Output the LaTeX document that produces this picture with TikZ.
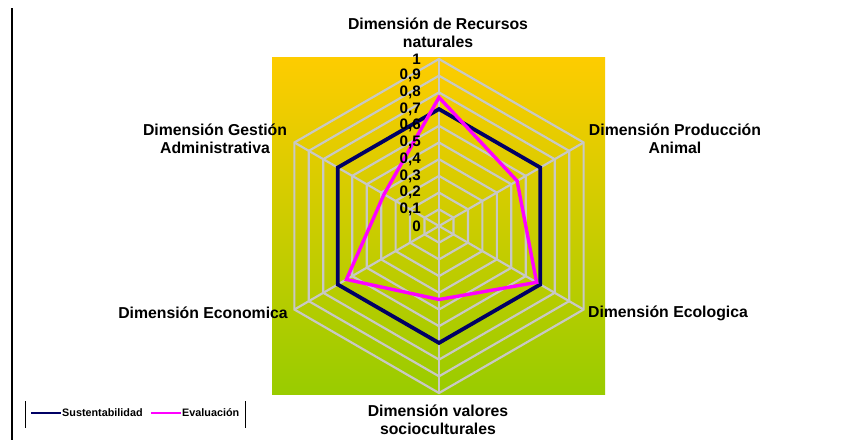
\documentclass[tikz,border=0pt]{standalone}
\usepackage{fontspec}
\setmainfont{Liberation Sans}
\definecolor{bgtop}{RGB}{254,204,0}
\definecolor{bgbot}{RGB}{153,204,0}
\definecolor{gridc}{RGB}{200,200,196}
\definecolor{navyc}{RGB}{0,0,100}
\definecolor{pinkc}{RGB}{255,0,255}
\tikzset{
  gridline/.style={draw=gridc, line width=2.2pt},
  sust/.style={draw=navyc, line width=3.8pt, line join=miter},
  eval/.style={draw=pinkc, line width=3.4pt, line join=miter},
  axlabel/.style={font=\fontsize{15.8}{18}\selectfont\bfseries, align=center, inner sep=0pt},
  ticklabel/.style={font=\fontsize{15.2}{16}\selectfont\bfseries, anchor=east, inner sep=0pt},
  legtext/.style={font=\fontsize{10.8}{12}\selectfont\bfseries, anchor=west, inner sep=0pt},
}
\begin{document}
\begin{tikzpicture}[x=1pt,y=-1pt]
\useasboundingbox (0,0) rectangle (851,440);
\fill[white] (0,0) rectangle (851,440);
% left frame line
\draw[black, line width=1.3pt] (12,8) -- (12,440);
% plot area background
\shade[top color=bgtop, bottom color=bgbot] (272,57) rectangle (605,394);
\begin{scope}[shift={(439,226)}, yscale=-1]
  \coordinate (c) at (0,0);
  % rings
  \foreach \k in {1,...,10}{
    \draw[gridline] (90:\k*16.7) -- (30:\k*16.7) -- (-30:\k*16.7) -- (-90:\k*16.7) -- (-150:\k*16.7) -- (150:\k*16.7) -- cycle;
  }
  % spokes
  \foreach \a in {90,30,-30,-90,-150,150}{
    \draw[gridline] (c) -- (\a:167);
  }
  % Sustentabilidad
  \draw[sust] (90:116.9) -- (30:116.9) -- (-30:116.9) -- (-90:116.9) -- (-150:116.9) -- (150:116.9) -- cycle;
  % Evaluacion
  \draw[eval] (90:0.77*167) -- (30:0.54*167) -- (-30:0.675*167) -- (-90:0.44*167) -- (-150:0.64*167) -- (150:0.38*167) -- cycle;
\end{scope}
% tick labels
\foreach \v/\t in {0/0,1/{0,1},2/{0,2},3/{0,3},4/{0,4},5/{0,5},6/{0,6},7/{0,7},8/{0,8},9/{0,9},10/1}{
  \node[ticklabel] (t\v) at (421,226-\v*16.7) {\t};
}
% axis labels
\node[axlabel] (a1) at (438,33) {Dimensión de Recursos\\naturales};
\node[axlabel] (a2) at (675,139) {Dimensión Producción\\Animal};
\node[axlabel] (a3) at (668,313) {Dimensión Ecologica};
\node[axlabel] (a4) at (438,420) {Dimensión valores\\socioculturales};
\node[axlabel] (a5) at (203,313) {Dimensión Economica};
\node[axlabel] (a6) at (215,139) {Dimensión Gestión\\Administrativa};
% legend
\draw[black, line width=1pt] (25,401) -- (25,428);
\draw[black, line width=1pt] (245,401) -- (245,428);
\coordinate (l1a) at (31,413);
\coordinate (l1b) at (61,413);
\draw[navyc, line width=1.8pt] (l1a) -- (l1b);
\node[legtext] (lt1) at (62,413) {Sustentabilidad};
\coordinate (l2a) at (151,413);
\coordinate (l2b) at (181,413);
\draw[pinkc, line width=1.8pt] (l2a) -- (l2b);
\node[legtext] (lt2) at (182,413) {Evaluación};
\end{tikzpicture}
\end{document}
